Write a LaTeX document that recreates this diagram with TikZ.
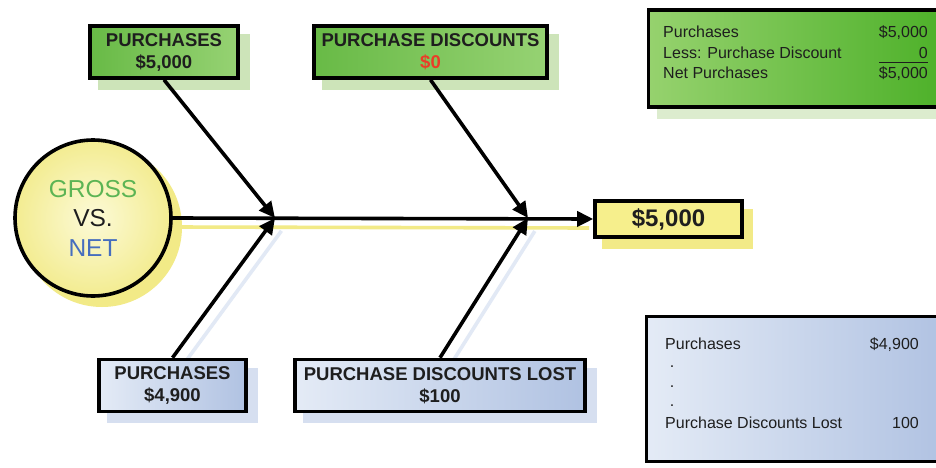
\documentclass[tikz,border=0pt]{standalone}
\usepackage{fontspec}
\setmainfont{Liberation Sans}
\usetikzlibrary{arrows.meta,shadings}
\pgfdeclarelayer{bg}
\pgfsetlayers{bg,main}
\definecolor{gL}{RGB}{104,186,70}
\definecolor{gR}{RGB}{150,210,115}
\definecolor{pL}{RGB}{150,210,110}
\definecolor{pR}{RGB}{76,176,40}
\definecolor{bL}{RGB}{228,235,246}
\definecolor{bR}{RGB}{176,194,226}
\definecolor{yel}{RGB}{246,239,140}
\definecolor{yelIn}{RGB}{252,250,215}
\definecolor{yelOut}{RGB}{243,236,145}
\definecolor{ysh}{RGB}{242,234,135}
\definecolor{gsh}{RGB}{205,228,185}
\definecolor{bsh}{RGB}{214,223,240}
\definecolor{txtdark}{RGB}{30,30,30}
\definecolor{grossgreen}{RGB}{92,180,84}
\definecolor{netblue}{RGB}{70,110,190}
\definecolor{zerored}{RGB}{235,60,40}
\tikzset{
  gbox/.style={draw=black, line width=3.6pt, left color=gL, right color=gR,
    minimum height=52pt, inner sep=0pt, align=center,
    font=\fontsize{18.5}{22}\selectfont\bfseries, text=txtdark},
  bbox/.style={gbox, left color=bL, right color=bR},
  conn/.style={line width=3.6pt, -{Triangle[length=16pt,width=15pt]}},
  ptext/.style={inner sep=0pt, font=\fontsize{16}{19}\selectfont, text=txtdark},
}
\begin{document}
\begin{tikzpicture}[x=1pt,y=-1pt]
\clip (0,0) rectangle (936,468);

% panels
\node[draw=black, line width=3.6pt, left color=pL, right color=pR,
  minimum width=300pt, minimum height=97pt, anchor=north west] (tp) at (646.5,8.5) {};
\node[draw=black, line width=3.6pt, left color=bL, right color=bR,
  minimum width=300pt, minimum height=145pt, anchor=north west] (bp) at (644.5,314.5) {};

\node[ptext, anchor=base west] (t1) at (663,38) {Purchases};
\node[ptext, anchor=base east] (v1) at (928,38) {\$5,000};
\node[ptext, anchor=base west] (t2) at (663,59) {Less: Purchase Discount};
\node[ptext, anchor=base east] (v2) at (928,59) {0};
\node[ptext, anchor=base west] (t3) at (663,79) {Net Purchases};
\node[ptext, anchor=base east] (v3) at (928,79) {\$5,000};
\draw[line width=0.8pt, txtdark] (879,62) -- (928,62);

\node[ptext, anchor=base west] (u1) at (665,349) {Purchases};
\node[ptext, anchor=base east] (w1) at (919,349) {\$4,900};
\node[ptext] (d1) at (672,367) {.};
\node[ptext] (d2) at (672,387) {.};
\node[ptext] (d3) at (672,406) {.};
\node[ptext, anchor=base west] (u2) at (665,428) {Purchase Discounts Lost};
\node[ptext, anchor=base east] (w2) at (919,428) {100};

% fishbone boxes
\node[gbox, minimum width=148pt] (p1) at (164,52) {PURCHASES\\\$5,000};
\node[gbox, minimum width=233pt] (pd) at (430.5,52) {PURCHASE DISCOUNTS\\\textcolor{zerored}{\$0}};
\node[circle, draw=black, line width=3.6pt, minimum size=156pt, inner sep=0pt,
  inner color=yelIn, outer color=yelOut, align=center,
  font=\fontsize{24.5}{29.5}\selectfont, text=txtdark] (gv) at (93,218)
  {\textcolor{grossgreen}{GROSS}\\VS.\\\textcolor{netblue}{NET}};
\coordinate (j1) at (275,218);
\coordinate (j2) at (528,218);
\node[draw=black, line width=3.6pt, fill=yel, minimum width=147pt, minimum height=36pt,
  inner sep=0pt, font=\fontsize{24}{28}\selectfont\bfseries, text=txtdark] (res) at (668.5,219) {\$5,000};
\node[bbox, minimum width=147pt] (p2) at (172.5,385.5) {PURCHASES\\\$4,900};
\node[bbox, minimum width=290pt] (pdl) at (440,385.5) {PURCHASE DISCOUNTS LOST\\\$100};

% connectors
\draw[conn] (gv.east) -- (res.west);
\draw[conn] (p1.south) -- (j1);
\draw[conn] (p2.north) -- (j1);
\draw[conn] (pd.south) -- (j2);
\draw[conn] (pdl.north) -- (j2);

% shadows
\begin{pgfonlayer}{bg}
\fill[white] (0,0) rectangle (936,468);
\fill[gsh] ([shift={(10,10)}]p1.south west) rectangle ([shift={(10,10)}]p1.north east);
\fill[gsh] ([shift={(10,10)}]pd.south west) rectangle ([shift={(10,10)}]pd.north east);
\fill[gsh!70] ([shift={(10,10)}]tp.south west) rectangle ([shift={(10,10)}]tp.north east);
\fill[bsh] ([shift={(10,10)}]p2.south west) rectangle ([shift={(10,10)}]p2.north east);
\fill[bsh] ([shift={(10,10)}]pdl.south west) rectangle ([shift={(10,10)}]pdl.north east);
\fill[ysh] ([shift={(9,10)}]res.south west) rectangle ([shift={(9,10)}]res.north east);
\fill[ysh] ([shift={(9,9)}]gv.center) circle (80);
\draw[ysh, line width=3.6pt] ([shift={(0,9)}]gv.east) -- ([shift={(-4,9)}]res.west);
\draw[bsh!70, line width=3.6pt, shorten >=6pt] ([shift={(10,8)}]p2.north) -- ([shift={(10,8)}]j1);
\draw[bsh!70, line width=3.6pt, shorten >=6pt] ([shift={(10,8)}]pdl.north) -- ([shift={(10,8)}]j2);
\end{pgfonlayer}
\end{tikzpicture}
\end{document}
